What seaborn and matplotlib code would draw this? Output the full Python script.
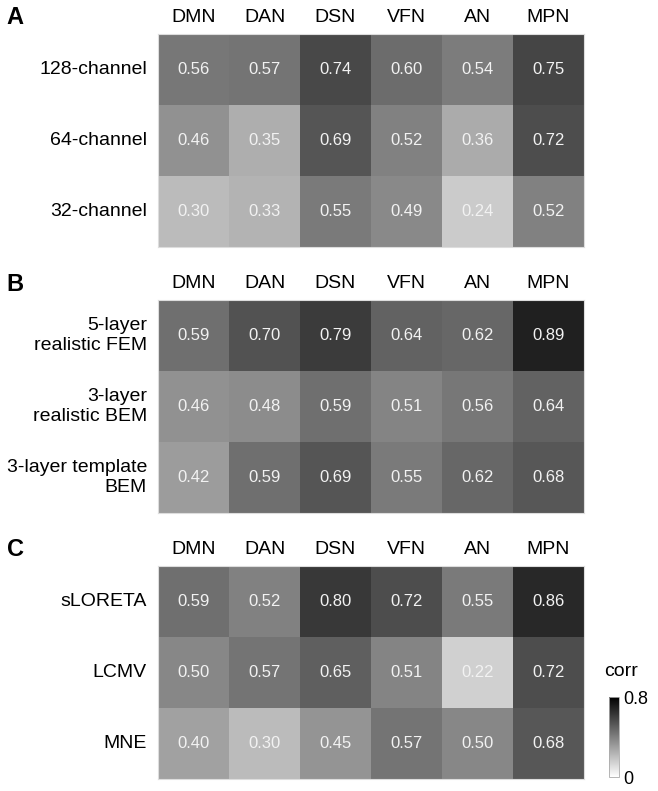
import matplotlib
matplotlib.use('Agg')
import matplotlib.pyplot as plt
import matplotlib.colors as mcolors
import matplotlib.cm as cm
import numpy as np
import pandas as pd
import seaborn as sns

sns.set_theme(style='white')
plt.rcParams['font.family'] = ['Liberation Sans', 'DejaVu Sans']
plt.rcParams['text.color'] = 'black'

# Data
networks = ['DMN', 'DAN', 'DSN', 'VFN', 'AN', 'MPN']

rows_a = ['128-channel', '64-channel', '32-channel']
vals_a = [[0.56, 0.57, 0.74, 0.60, 0.54, 0.75],
          [0.46, 0.35, 0.69, 0.52, 0.36, 0.72],
          [0.30, 0.33, 0.55, 0.49, 0.24, 0.52]]

rows_b = ['5-layer\nrealistic FEM', '3-layer\nrealistic BEM', '3-layer template\nBEM']
vals_b = [[0.59, 0.70, 0.79, 0.64, 0.62, 0.89],
          [0.46, 0.48, 0.59, 0.51, 0.56, 0.64],
          [0.42, 0.59, 0.69, 0.55, 0.62, 0.68]]

rows_c = ['sLORETA', 'LCMV', 'MNE']
vals_c = [[0.59, 0.52, 0.80, 0.72, 0.55, 0.86],
          [0.50, 0.57, 0.65, 0.51, 0.22, 0.72],
          [0.40, 0.30, 0.45, 0.57, 0.50, 0.68]]

panels = [('A', rows_a, vals_a), ('B', rows_b, vals_b), ('C', rows_c, vals_c)]

W, H = 658, 791
fig = plt.figure(figsize=(W / 100, H / 100), dpi=100)

# heatmap boxes in pixels: (top, bottom)
boxes = [(34, 247), (300, 513), (566, 779)]
left_px, right_px = 158, 584

for (letter, rows, vals), (top, bot) in zip(panels, boxes):
    ax = fig.add_axes([left_px / W, 1 - bot / H, (right_px - left_px) / W, (bot - top) / H])
    df = pd.DataFrame(vals, index=rows, columns=networks)
    sns.heatmap(df, ax=ax, cmap='gray_r', vmin=0.04, vmax=1.015, cbar=False,
                annot=True, fmt='.2f',
                annot_kws={'fontsize': 12, 'color': '#f2f2f2'})
    ax.xaxis.tick_top()
    ax.tick_params(axis='x', length=0, pad=6, labelsize=14, labelcolor='black')
    ax.tick_params(axis='y', length=0, pad=8, labelsize=14, labelcolor='black')
    plt.setp(ax.get_xticklabels(), rotation=0)
    plt.setp(ax.get_yticklabels(), rotation=0, ha='right', va='center')
    for s in ax.spines.values():
        s.set_visible(True)
        s.set_color('#dddddd')
        s.set_linewidth(0.8)
    fig.text(15 / W, 1 - (top - 16) / H, letter, fontsize=17, fontweight='bold',
             color='black', ha='center', va='center')

# Colorbar
cax = fig.add_axes([609 / W, 1 - 777 / H, 10 / W, 80 / H])
sm = cm.ScalarMappable(norm=mcolors.Normalize(vmin=0, vmax=0.8), cmap='gray_r')
cb = fig.colorbar(sm, cax=cax, ticks=[0, 0.8])
cb.ax.set_yticklabels(['0', '0.8'])
cb.ax.tick_params(length=0, pad=3, labelsize=13, labelcolor='black')
cb.outline.set_edgecolor('#aaaaaa')
cb.outline.set_linewidth(0.6)
fig.text(621 / W, 1 - 672 / H, 'corr', fontsize=14, color='black', ha='center', va='center')

fig.savefig('out.png', dpi=100)
